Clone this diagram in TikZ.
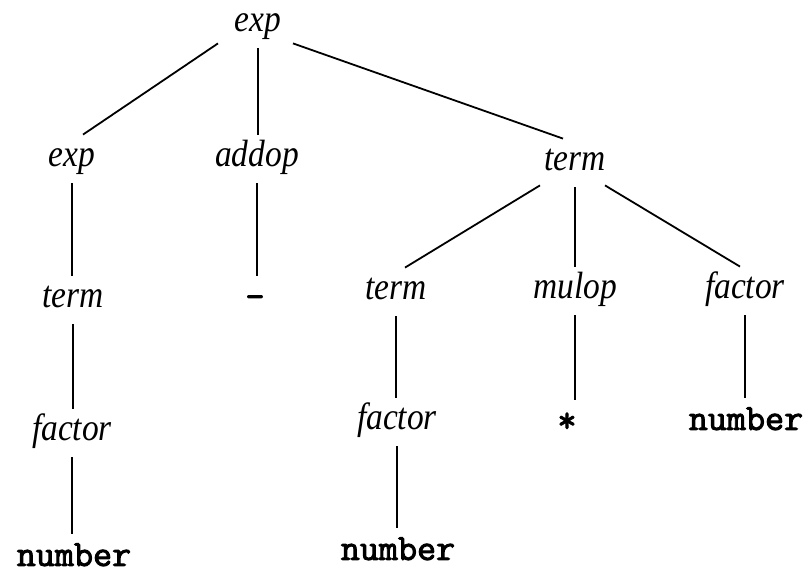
\documentclass[tikz,border=0pt]{standalone}
\usepackage{fontspec}
\setmainfont[FakeStretch=0.88]{Liberation Serif}
\newfontfamily\tokfont[FakeBold=2.5]{Latin Modern Mono}
\usetikzlibrary{calc}

\begin{document}
\begin{tikzpicture}[x=0.5pt, y=-0.5pt,
                    every node/.style={anchor=base, inner sep=4pt, text height=12pt, text depth=4pt},
                    nt/.style={font=\fontsize{19}{22}\selectfont\itshape},
                    tok/.style={font=\fontsize{18.5}{22}\selectfont\tokfont},
                    edge/.style={line width=0.9pt}]

\useasboundingbox (0,0) rectangle (811,571);

% Root
\node[nt] (exp0) at (258,32) {exp};

% Level 1
\node[nt] (exp1) at (72,167) {exp};
\node[nt] (addop) at (257,167) {addop};
\node[nt] (term1) at (575,171) {term};

% Level 2
\node[nt] (term2) at (73,308) {term};
\node[tok] (minus) at (255,308) {-};
\node[nt] (term3) at (396,300) {term};
\node[nt] (mulop) at (575,299) {mulop};
\node[nt] (factor1) at (745,299) {factor};

% Level 3
\node[nt] (factor2) at (72,441) {factor};
\node[nt] (factor3) at (397,430) {factor};
\node[tok] (times) at (567,432) {*};
\node[tok] (num1) at (746,430) {number};

% Level 4
\node[tok] (num2) at (74,566) {number};
\node[tok] (num3) at (398,560) {number};

% Edges from the root
\draw[edge] ([shift={(-40,-5)}]exp0.south) -- ([shift={(11,0)}]exp1.north);
\draw[edge] (exp0.south) -- (exp0.south |- addop.north);
\draw[edge] ([shift={(35,-5)}]exp0.south) -- ([shift={(-12,0)}]term1.north);

% Left and middle branches
\draw[edge] (exp1.south) -- (exp1.south |- term2.north);
\draw[edge] (addop.south) -- (addop.south |- minus.north);
\draw[edge] (term2.south) -- (term2.south |- factor2.north);
\draw[edge] (factor2.south) -- (factor2.south |- num2.north);

% Right branch
\draw[edge] ([shift={(-35,-2)}]term1.south) -- ([shift={(9,0)}]term3.north);
\draw[edge] (term1.south) -- (term1.south |- mulop.north);
\draw[edge] ([shift={(30,-2)}]term1.south) -- ([shift={(-5,0)}]factor1.north);
\draw[edge] (term3.south) -- (term3.south |- factor3.north);
\draw[edge] (factor3.south) -- (factor3.south |- num3.north);
\draw[edge] (mulop.south) -- (mulop.south |- times.north);
\draw[edge] (factor1.south) -- (factor1.south |- num1.north);

\end{tikzpicture}
\end{document}
